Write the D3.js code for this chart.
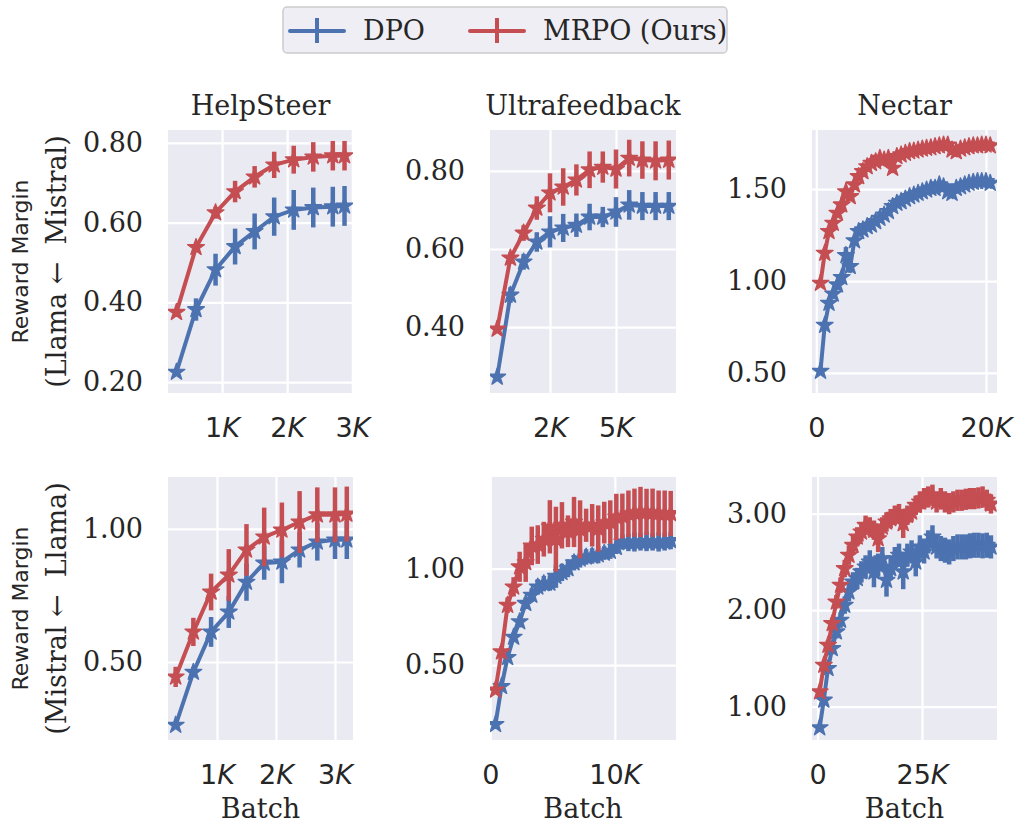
<!DOCTYPE html>
<html>
<head>
<meta charset="utf-8">
<script src="https://cdn.jsdelivr.net/npm/d3@7"></script>
<style>
body { margin: 0; background: #fff; }
</style>
</head>
<body>
<svg id="fig" width="1015" height="825"></svg>
<script>
// ---- data ----
var seriesNames = ["DPO", "MRPO (Ours)"];
var titles = ["HelpSteer", "Ultrafeedback", "Nectar"];
var rowLabels = [["Reward Margin", "(Llama \u2190  Mistral)"], ["Reward Margin", "(Mistral \u2190  Llama)"]];

// HelpSteer, top row
var hsTopX = [300, 600, 900, 1200, 1500, 1800, 2100, 2400, 2700, 2880];
var hsTopDpo = [0.225, 0.382, 0.482, 0.54, 0.578, 0.615, 0.632, 0.638, 0.64, 0.642];
var hsTopDpoErr = [0.01, 0.028, 0.04, 0.045, 0.045, 0.048, 0.05, 0.05, 0.05, 0.05];
var hsTopMrpo = [0.375, 0.538, 0.625, 0.678, 0.715, 0.745, 0.758, 0.765, 0.768, 0.768];
var hsTopMrpoErr = [0.008, 0.012, 0.015, 0.027, 0.027, 0.033, 0.035, 0.037, 0.037, 0.037];

// Ultrafeedback, top row
var ufTopX = [500, 1000, 1500, 2000, 2500, 3000, 3500, 4000, 4500, 5000, 5500, 6000, 6500, 7000];
var ufTopDpo = [0.272, 0.482, 0.567, 0.618, 0.644, 0.654, 0.661, 0.682, 0.682, 0.695, 0.713, 0.71, 0.71, 0.71];
var ufTopDpoErr = [0.008, 0.02, 0.02, 0.025, 0.04, 0.036, 0.03, 0.034, 0.026, 0.038, 0.038, 0.036, 0.036, 0.036];
var ufTopMrpo = [0.395, 0.577, 0.641, 0.705, 0.744, 0.759, 0.777, 0.803, 0.81, 0.805, 0.833, 0.828, 0.826, 0.828];
var ufTopMrpoErr = [0.008, 0.015, 0.02, 0.03, 0.05, 0.048, 0.04, 0.047, 0.04, 0.05, 0.047, 0.048, 0.05, 0.05];

// Nectar, top row
var ncTopX = [500, 1000, 1500, 2000, 2500, 3000, 3500, 4000, 4500, 5000, 5500, 6000, 6500, 7000,
  7500, 8000, 8500, 9000, 9500, 10000, 10500, 11000, 11500, 12000, 12500, 13000, 13500, 14000,
  14500, 15000, 15500, 16000, 16500, 17000, 17500, 18000, 18500, 19000, 19500, 20000, 20500];
var ncTopDpo = [0.51, 0.76, 0.88, 0.93, 0.98, 1.02, 1.14, 1.08, 1.22, 1.27, 1.279, 1.297, 1.306, 1.324,
  1.342, 1.36, 1.379, 1.406, 1.424, 1.433, 1.447, 1.46, 1.469, 1.478, 1.487, 1.496, 1.505, 1.505,
  1.524, 1.514, 1.487, 1.478, 1.505, 1.514, 1.524, 1.533, 1.538, 1.542, 1.542, 1.542, 1.533];
var ncTopDpoErr = [0.01, 0.025, 0.025, 0.025, 0.025, 0.025, 0.045, 0.035, 0.025, 0.025, 0.025, 0.025, 0.025, 0.025,
  0.025, 0.025, 0.025, 0.025, 0.025, 0.025, 0.025, 0.025, 0.025, 0.025, 0.025, 0.025, 0.025, 0.025,
  0.025, 0.025, 0.025, 0.025, 0.025, 0.025, 0.025, 0.025, 0.025, 0.025, 0.025, 0.025, 0.025];
var ncTopMrpo = [0.989, 1.152, 1.27, 1.315, 1.37, 1.415, 1.487, 1.46, 1.524, 1.569, 1.596, 1.623, 1.641, 1.65,
  1.668, 1.659, 1.668, 1.614, 1.678, 1.687, 1.696, 1.705, 1.708, 1.714, 1.719, 1.723, 1.726, 1.732,
  1.737, 1.741, 1.741, 1.714, 1.705, 1.719, 1.726, 1.732, 1.737, 1.737, 1.741, 1.741, 1.737];
var ncTopMrpoErr = [0.01, 0.025, 0.025, 0.025, 0.025, 0.025, 0.025, 0.025, 0.025, 0.025, 0.025, 0.025, 0.025, 0.025,
  0.025, 0.025, 0.025, 0.025, 0.025, 0.025, 0.025, 0.025, 0.025, 0.025, 0.025, 0.025, 0.025, 0.025,
  0.025, 0.025, 0.025, 0.025, 0.025, 0.025, 0.025, 0.025, 0.025, 0.025, 0.025, 0.025, 0.025];

// HelpSteer, bottom row
var hsBotX = [300, 600, 900, 1200, 1500, 1800, 2100, 2400, 2700, 3000, 3200];
var hsBotDpo = [0.263, 0.462, 0.613, 0.688, 0.8, 0.872, 0.876, 0.921, 0.951, 0.959, 0.959];
var hsBotDpoErr = [0.01, 0.02, 0.056, 0.06, 0.07, 0.063, 0.08, 0.066, 0.07, 0.072, 0.072];
var hsBotMrpo = [0.444, 0.613, 0.763, 0.827, 0.921, 0.97, 0.996, 1.026, 1.053, 1.053, 1.056];
var hsBotMrpoErr = [0.038, 0.053, 0.069, 0.097, 0.097, 0.11, 0.103, 0.116, 0.103, 0.103, 0.103];

// Ultrafeedback, bottom row
var ufBotX = [420, 905, 1390, 1875, 2360, 2845, 3330, 3815, 4300, 4785, 5270, 5755, 6240, 6725, 7210,
  7695, 8180, 8665, 9150, 9635, 10120, 10605, 11090, 11575, 12060, 12545, 13030, 13515, 14000, 14485];
var ufBotDpo = [0.193, 0.39, 0.54, 0.645, 0.725, 0.82, 0.862, 0.905, 0.922, 0.925, 0.96, 0.98, 1.0, 1.03, 1.05,
  1.06, 1.065, 1.072, 1.08, 1.09, 1.11, 1.138, 1.135, 1.138, 1.138, 1.14, 1.138, 1.138, 1.138, 1.145];
var ufBotDpoErr = [0.01, 0.02, 0.02, 0.025, 0.03, 0.03, 0.035, 0.04, 0.04, 0.04, 0.06, 0.045, 0.045, 0.04, 0.045,
  0.04, 0.04, 0.045, 0.035, 0.04, 0.035, 0.04, 0.045, 0.05, 0.045, 0.05, 0.045, 0.05, 0.045, 0.045];
var ufBotMrpo = [0.371, 0.569, 0.81, 0.905, 1.009, 1.031, 1.117, 1.124, 1.152, 1.216, 1.152, 1.224, 1.193, 1.241, 1.203,
  1.224, 1.224, 1.207, 1.238, 1.241, 1.267, 1.272, 1.284, 1.289, 1.293, 1.293, 1.289, 1.287, 1.284, 1.285];
var ufBotMrpoErr = [0.02, 0.03, 0.04, 0.05, 0.078, 0.1, 0.1, 0.1, 0.09, 0.138, 0.168, 0.12, 0.082, 0.13, 0.15,
  0.086, 0.11, 0.12, 0.108, 0.112, 0.12, 0.116, 0.12, 0.125, 0.13, 0.12, 0.125, 0.117, 0.12, 0.117];

// Nectar, bottom row
var ncBotX = [500, 1500, 2500, 3500, 4500, 5500, 6500, 7500, 8500, 9500, 10500, 11500, 12500, 13500,
  14500, 15500, 16500, 17500, 18500, 19500, 20500, 21500, 22500, 23500, 24500, 25500, 26500, 27500,
  28500, 29500, 30500, 31500, 32500, 33500, 34500, 35500, 36500, 37500, 38500, 39500, 40500, 41500];
var ncBotDpo = [0.783, 1.069, 1.397, 1.603, 1.776, 1.897, 2.052, 2.19, 2.293, 2.328, 2.397, 2.448, 2.5, 2.397,
  2.466, 2.534, 2.31, 2.431, 2.534, 2.569, 2.397, 2.569, 2.603, 2.5, 2.655, 2.603, 2.707, 2.759,
  2.655, 2.638, 2.621, 2.603, 2.638, 2.655, 2.655, 2.655, 2.666, 2.672, 2.672, 2.666, 2.672, 2.655];
var ncBotDpoErr = [0.02, 0.04, 0.05, 0.06, 0.07, 0.08, 0.09, 0.1, 0.1, 0.11, 0.11, 0.12, 0.12, 0.16,
  0.12, 0.12, 0.17, 0.12, 0.12, 0.12, 0.18, 0.12, 0.12, 0.15, 0.12, 0.12, 0.12, 0.12,
  0.12, 0.13, 0.13, 0.13, 0.13, 0.13, 0.13, 0.13, 0.13, 0.13, 0.13, 0.13, 0.13, 0.12];
var ncBotMrpo = [1.155, 1.431, 1.638, 1.862, 2.086, 2.259, 2.431, 2.569, 2.672, 2.759, 2.81, 2.879, 2.862, 2.828,
  2.741, 2.862, 2.914, 2.948, 2.983, 3.0, 2.897, 2.983, 3.017, 3.086, 3.121, 3.155, 3.172, 3.19,
  3.121, 3.155, 3.121, 3.103, 3.121, 3.138, 3.138, 3.148, 3.155, 3.155, 3.162, 3.172, 3.138, 3.1];
var ncBotMrpoErr = [0.03, 0.04, 0.05, 0.06, 0.07, 0.08, 0.09, 0.1, 0.1, 0.1, 0.1, 0.1, 0.1, 0.1,
  0.14, 0.1, 0.1, 0.1, 0.1, 0.1, 0.15, 0.1, 0.1, 0.1, 0.11, 0.11, 0.11, 0.11,
  0.11, 0.11, 0.11, 0.11, 0.11, 0.11, 0.11, 0.11, 0.11, 0.11, 0.11, 0.11, 0.11, 0.1];

// axis ticks and their labels
var hsTopXTicks = [1000, 2000, 3000], hsTopXLabels = ["1K", "2K", "3K"];
var ufTopXTicks = [2500, 5000], ufTopXLabels = ["2K", "5K"];
var ncTopXTicks = [0, 20000], ncTopXLabels = ["0", "20K"];
var hsBotXTicks = [1000, 2000, 3000], hsBotXLabels = ["1K", "2K", "3K"];
var ufBotXTicks = [0, 10000], ufBotXLabels = ["0", "10K"];
var ncBotXTicks = [0, 25000], ncBotXLabels = ["0", "25K"];
var hsTopYTicks = [0.2, 0.4, 0.6, 0.8];
var ufTopYTicks = [0.4, 0.6, 0.8];
var ncTopYTicks = [0.5, 1.0, 1.5];
var hsBotYTicks = [0.5, 1.0];
var ufBotYTicks = [0.5, 1.0];
var ncBotYTicks = [1.0, 2.0, 3.0];

// ---- layout ----
var colX = [[168, 353], [490, 676], [812, 997]];
var rowY = [[130, 393], [477, 740]];
var blue = "#4c72b0", red = "#c44e52", ink = "#262626";
var serif = "DejaVu Serif", sans = "DejaVu Sans";

var panels = [
  {col: 0, row: 0, x: hsTopX, dpo: hsTopDpo, dpoErr: hsTopDpoErr, mrpo: hsTopMrpo, mrpoErr: hsTopMrpoErr,
   xDomain: [170, 3010], yDomain: [0.1725, 0.8325], xTicks: hsTopXTicks, xLabels: hsTopXLabels, yTicks: hsTopYTicks},
  {col: 1, row: 0, x: ufTopX, dpo: ufTopDpo, dpoErr: ufTopDpoErr, mrpo: ufTopMrpo, mrpoErr: ufTopMrpoErr,
   xDomain: [227, 7273], yDomain: [0.231, 0.905], xTicks: ufTopXTicks, xLabels: ufTopXLabels, yTicks: ufTopYTicks},
  {col: 2, row: 0, x: ncTopX, dpo: ncTopDpo, dpoErr: ncTopDpoErr, mrpo: ncTopMrpo, mrpoErr: ncTopMrpoErr,
   xDomain: [-500, 21300], yDomain: [0.391, 1.822], xTicks: ncTopXTicks, xLabels: ncTopXLabels, yTicks: ncTopYTicks},
  {col: 0, row: 1, x: hsBotX, dpo: hsBotDpo, dpoErr: hsBotDpoErr, mrpo: hsBotMrpo, mrpoErr: hsBotMrpoErr,
   xDomain: [170, 3305], yDomain: [0.207, 1.195], xTicks: hsBotXTicks, xLabels: hsBotXLabels, yTicks: hsBotYTicks},
  {col: 1, row: 1, x: ufBotX, dpo: ufBotDpo, dpoErr: ufBotDpoErr, mrpo: ufBotMrpo, mrpoErr: ufBotMrpoErr,
   xDomain: [-20, 14910], yDomain: [0.112, 1.474], xTicks: ufBotXTicks, xLabels: ufBotXLabels, yTicks: ufBotYTicks},
  {col: 2, row: 1, x: ncBotX, dpo: ncBotDpo, dpoErr: ncBotDpoErr, mrpo: ncBotMrpo, mrpoErr: ncBotMrpoErr,
   xDomain: [-1330, 42950], yDomain: [0.655, 3.379], xTicks: ncBotXTicks, xLabels: ncBotXLabels, yTicks: ncBotYTicks}
];

var svg = d3.select("#fig");

var drawPanel = function(p, i) {
  var x0 = colX[p.col][0], y0 = rowY[p.row][0];
  var w = colX[p.col][1] - x0, h = rowY[p.row][1] - y0;
  var xScale = d3.scaleLinear().domain(p.xDomain).range([0, w]);
  var yScale = d3.scaleLinear().domain(p.yDomain).range([h, 0]);
  var g = svg.append("g").attr("transform", "translate(" + x0 + "," + y0 + ")");

  g.append("rect").attr("width", w).attr("height", h).attr("fill", "#eaeaf2");
  g.append("clipPath").attr("id", "clip" + i)
    .append("rect").attr("width", w).attr("height", h);

  var ya = g.append("g")
    .call(d3.axisLeft(yScale).tickValues(p.yTicks).tickSize(-w).tickPadding(25).tickFormat(d3.format(".2f")));
  ya.select(".domain").remove();
  ya.selectAll("line").attr("stroke", "#fff").attr("stroke-width", 2.2);
  ya.selectAll("text").attr("font-family", serif).attr("font-size", 27).attr("fill", ink);

  var xa = g.append("g").attr("transform", "translate(0," + h + ")")
    .call(d3.axisBottom(xScale).tickValues(p.xTicks).tickSize(-h).tickPadding(25).tickFormat(""));
  xa.select(".domain").remove();
  xa.selectAll("line").attr("stroke", "#fff").attr("stroke-width", 2.2);
  xa.selectAll(".tick text")
    .attr("font-family", sans).attr("font-size", 27).attr("fill", ink)
    .each(function(d, j) {
      var t = d3.select(this), lab = p.xLabels[j];
      if (lab.slice(-1) === "K") {
        t.append("tspan").text(lab.slice(0, -1));
        t.append("tspan").attr("font-style", "italic").text("K");
      } else {
        t.text(lab);
      }
    });

  var plot = g.append("g").attr("clip-path", "url(#clip" + i + ")");
  [[p.dpo, p.dpoErr, blue], [p.mrpo, p.mrpoErr, red]].forEach(function(s) {
    var pts = p.x.map(function(xv, k) { return {x: xv, y: s[0][k], e: s[1][k]}; });
    plot.append("g").selectAll("line").data(pts).join("line")
      .attr("x1", function(d) { return xScale(d.x); })
      .attr("x2", function(d) { return xScale(d.x); })
      .attr("y1", function(d) { return yScale(d.y - d.e); })
      .attr("y2", function(d) { return yScale(d.y + d.e); })
      .attr("stroke", s[2]).attr("stroke-width", 4.5);
    plot.append("path").datum(pts)
      .attr("d", d3.line().x(function(d) { return xScale(d.x); }).y(function(d) { return yScale(d.y); }))
      .attr("fill", "none").attr("stroke", s[2]).attr("stroke-width", 4);
    plot.append("g").selectAll("path").data(pts).join("path")
      .attr("transform", function(d) { return "translate(" + xScale(d.x) + "," + yScale(d.y) + ")"; })
      .attr("d", d3.symbol(d3.symbolStar, 85))
      .attr("fill", s[2]).attr("stroke", s[2]).attr("stroke-width", 1.5).attr("stroke-linejoin", "round");
  });

  if (p.row === 0) {
    svg.append("text").text(titles[p.col])
      .attr("x", x0 + w / 2).attr("y", 115).attr("text-anchor", "middle")
      .attr("font-family", serif).attr("font-size", 27).attr("fill", ink);
  } else {
    svg.append("text").text("Batch")
      .attr("x", x0 + w / 2).attr("y", 818).attr("text-anchor", "middle")
      .attr("font-family", serif).attr("font-size", 27).attr("fill", ink);
  }
};

panels.forEach(drawPanel);

// row labels
rowLabels.forEach(function(lab, r) {
  var cy = (rowY[r][0] + rowY[r][1]) / 2;
  svg.append("text").text(lab[0])
    .attr("transform", "translate(28," + cy + ") rotate(-90)")
    .attr("text-anchor", "middle").attr("font-family", sans).attr("font-size", 22).attr("fill", ink);
  svg.append("text").text(lab[1])
    .attr("transform", "translate(66," + cy + ") rotate(-90)")
    .style("white-space", "pre")
    .attr("text-anchor", "middle").attr("font-family", serif).attr("font-size", 27).attr("fill", ink);
});

// legend
var legend = svg.append("g");
legend.append("rect").attr("x", 283).attr("y", 7).attr("width", 444).attr("height", 46).attr("rx", 4)
  .attr("fill", "#eeeef4").attr("stroke", "#cccccc").attr("stroke-width", 1.5);
[[290, 363, blue], [470, 543, red]].forEach(function(it, k) {
  legend.append("line").attr("x1", it[0]).attr("x2", it[0] + 54).attr("y1", 31).attr("y2", 31)
    .attr("stroke", it[2]).attr("stroke-width", 4).attr("stroke-linecap", "round");
  legend.append("line").attr("x1", it[0] + 27).attr("x2", it[0] + 27).attr("y1", 18).attr("y2", 43)
    .attr("stroke", it[2]).attr("stroke-width", 4);
  legend.append("text").text(seriesNames[k]).attr("x", it[1]).attr("y", 40)
    .attr("font-family", serif).attr("font-size", 27).attr("fill", ink);
});
</script>
</body>
</html>
